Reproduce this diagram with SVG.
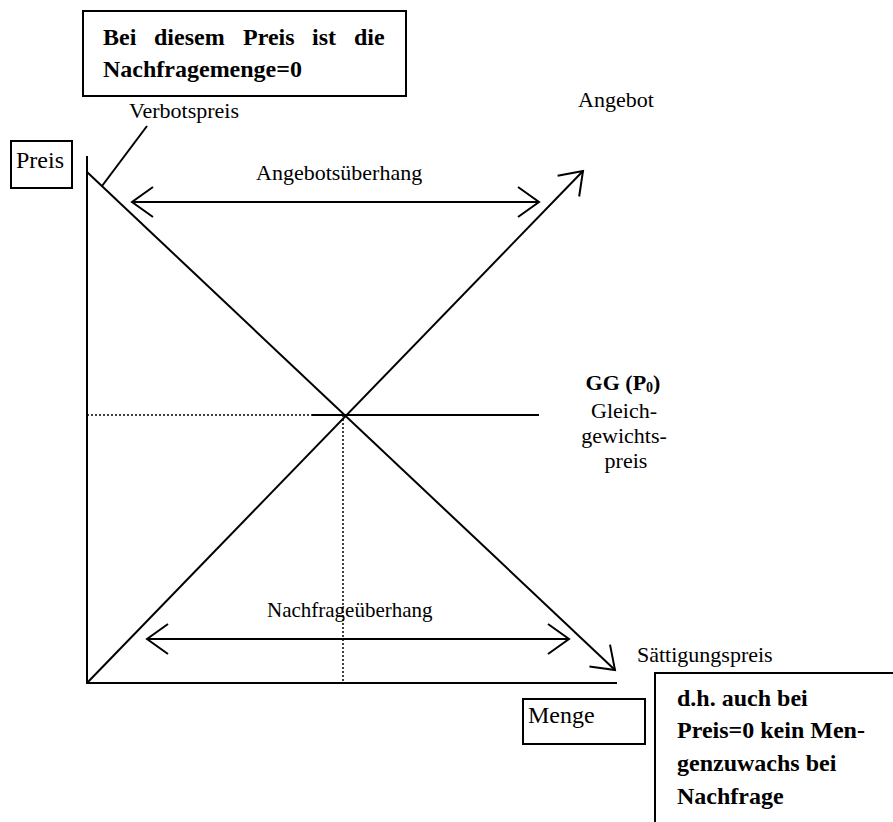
<svg xmlns="http://www.w3.org/2000/svg" width="893" height="822" viewBox="0 0 893 822">
<style>
text{font-family:"Liberation Serif","Times New Roman",serif;fill:#000}
.r{font-size:21px}
.r2{font-size:22px}
.b{font-size:24px;font-weight:bold}
.box{fill:#fff;stroke:#000;stroke-width:2}
.ln{stroke:#000;stroke-width:2;fill:none}
.dot{stroke:#000;stroke-width:1.5;stroke-dasharray:2 2;fill:none}
</style>
<defs>
<marker id="v" viewBox="-26 -20 32 40" refX="0" refY="0" markerWidth="32" markerHeight="40" markerUnits="userSpaceOnUse" orient="auto-start-reverse">
<path d="M-21,-15 L0,0 L-21,15" fill="none" stroke="#000" stroke-width="2"/>
</marker>
</defs>
<rect width="893" height="822" fill="#fff"/>
<g id="note-top">
<rect class="box" x="83" y="11" width="323" height="85"/>
<text class="b" y="45"><tspan x="103">Bei</tspan><tspan x="154">diesem</tspan><tspan x="243">Preis</tspan><tspan x="312">ist</tspan><tspan x="354">die</tspan></text>
<text class="b" x="103" y="77">Nachfragemenge=0</text>
</g>
<g id="label-preis">
<rect class="box" x="11" y="141" width="61" height="47"/>
<text x="16" y="168" style="font-size:24px">Preis</text>
</g>
<g id="label-menge">
<rect class="box" x="523" y="699" width="122" height="45"/>
<text x="528" y="723" style="font-size:24px">Menge</text>
</g>
<g id="note-bottom">
<rect class="box" x="655" y="673" width="260" height="170"/>
<text class="b" x="677" y="706">d.h. auch bei</text>
<text class="b" x="677" y="738">Preis=0 kein Men-</text>
<text class="b" x="677" y="771">genzuwachs bei</text>
<text class="b" x="677" y="804">Nachfrage</text>
</g>
<g id="labels">
<text class="r2" x="129" y="118">Verbotspreis</text>
<text class="r2" x="578" y="107">Angebot</text>
<text class="r2" x="256" y="180">Angebotsüberhang</text>
<text class="r" x="267" y="617">Nachfrageüberhang</text>
<text class="r2" x="637" y="662">Sättigungspreis</text>
<text class="r2" x="623" y="390" text-anchor="middle" font-weight="bold">GG (P<tspan font-size="14" dy="2">0</tspan><tspan dy="-2">)</tspan></text>
<text class="r2" x="624" y="418" text-anchor="middle">Gleich-</text>
<text class="r2" x="624" y="443" text-anchor="middle">gewichts-</text>
<text class="r2" x="626" y="468" text-anchor="middle">preis</text>
</g>
<g id="connectors">
<line class="ln" x1="87" y1="156" x2="87" y2="684"/>
<line class="ln" x1="86" y1="683" x2="617" y2="683"/>
<line class="ln" x1="87" y1="172" x2="615" y2="670" marker-end="url(#v)"/>
<line class="ln" x1="87" y1="683" x2="583" y2="171" marker-end="url(#v)"/>
<line class="ln" x1="147" y1="126" x2="102" y2="186"/>
<line class="ln" x1="132" y1="202" x2="539" y2="202" marker-start="url(#v)" marker-end="url(#v)"/>
<line class="ln" x1="147" y1="639" x2="569" y2="639" marker-start="url(#v)" marker-end="url(#v)"/>
<line class="dot" x1="87" y1="415" x2="312" y2="415"/>
<line class="ln" x1="312" y1="415" x2="539" y2="415"/>
<line class="dot" x1="343" y1="415" x2="343" y2="683"/>
</g>
</svg>
